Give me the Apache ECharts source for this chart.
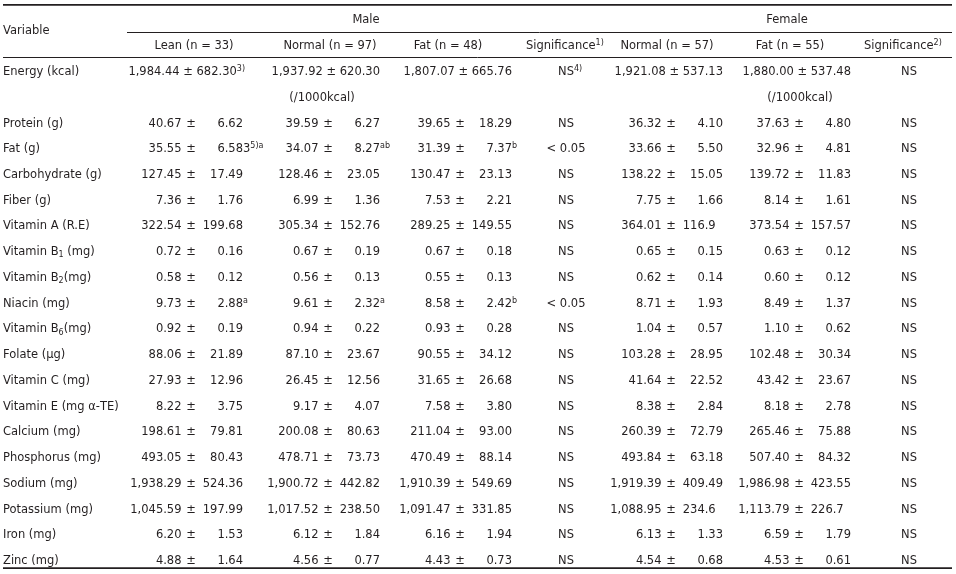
<!DOCTYPE html>
<html>
<head>
<meta charset="utf-8">
<script src="https://cdn.jsdelivr.net/npm/echarts@6/dist/echarts.min.js"></script>
<style>html,body{margin:0;padding:0;background:#fff}#chart{width:956px;height:574px}</style>
</head>
<body>
<div id="chart"></div>
<script>
// ---------------- DATA ----------------
const groupHeaders = ['Male', 'Female'];
const subHeaders = ['Lean (n = 33)', 'Normal (n = 97)', 'Fat (n = 48)', 'Significance^1)', 'Normal (n = 57)', 'Fat (n = 55)', 'Significance^2)'];
const firstHeader = 'Variable';
const perKcalLabel = '(/1000kcal)';

const energyLabel = 'Energy (kcal)';
const energyMean = ['1,984.44', '1,937.92', '1,807.07', '1,921.08', '1,880.00'];
const energySD = ['682.30^3)', '620.30', '665.76', '537.13', '537.48'];
const energySig = ['NS^4)', 'NS'];

const variables = ['Protein (g)', 'Fat (g)', 'Carbohydrate (g)', 'Fiber (g)', 'Vitamin A (R.E)', 'Vitamin B_1 (mg)', 'Vitamin B_2(mg)', 'Niacin (mg)', 'Vitamin B_6(mg)', 'Folate (μg)', 'Vitamin C (mg)', 'Vitamin E (mg α-TE)', 'Calcium (mg)', 'Phosphorus (mg)', 'Sodium (mg)', 'Potassium (mg)', 'Iron (mg)', 'Zinc (mg)'];

const leanMean = ['40.67', '35.55', '127.45', '7.36', '322.54', '0.72', '0.58', '9.73', '0.92', '88.06', '27.93', '8.22', '198.61', '493.05', '1,938.29', '1,045.59', '6.20', '4.88'];
const leanSD = ['6.62', '6.583^5)a', '17.49', '1.76', '199.68', '0.16', '0.12', '2.88^a', '0.19', '21.89', '12.96', '3.75', '79.81', '80.43', '524.36', '197.99', '1.53', '1.64'];
const normalMaleMean = ['39.59', '34.07', '128.46', '6.99', '305.34', '0.67', '0.56', '9.61', '0.94', '87.10', '26.45', '9.17', '200.08', '478.71', '1,900.72', '1,017.52', '6.12', '4.56'];
const normalMaleSD = ['6.27', '8.27^ab', '23.05', '1.36', '152.76', '0.19', '0.13', '2.32^a', '0.22', '23.67', '12.56', '4.07', '80.63', '73.73', '442.82', '238.50', '1.84', '0.77'];
const fatMaleMean = ['39.65', '31.39', '130.47', '7.53', '289.25', '0.67', '0.55', '8.58', '0.93', '90.55', '31.65', '7.58', '211.04', '470.49', '1,910.39', '1,091.47', '6.16', '4.43'];
const fatMaleSD = ['18.29', '7.37^b', '23.13', '2.21', '149.55', '0.18', '0.13', '2.42^b', '0.28', '34.12', '26.68', '3.80', '93.00', '88.14', '549.69', '331.85', '1.94', '0.73'];
const sigMale = ['NS', '< 0.05', 'NS', 'NS', 'NS', 'NS', 'NS', '< 0.05', 'NS', 'NS', 'NS', 'NS', 'NS', 'NS', 'NS', 'NS', 'NS', 'NS'];
const normalFemaleMean = ['36.32', '33.66', '138.22', '7.75', '364.01', '0.65', '0.62', '8.71', '1.04', '103.28', '41.64', '8.38', '260.39', '493.84', '1,919.39', '1,088.95', '6.13', '4.54'];
const normalFemaleSD = ['4.10', '5.50', '15.05', '1.66', '116.9', '0.15', '0.14', '1.93', '0.57', '28.95', '22.52', '2.84', '72.79', '63.18', '409.49', '234.6', '1.33', '0.68'];
const fatFemaleMean = ['37.63', '32.96', '139.72', '8.14', '373.54', '0.63', '0.60', '8.49', '1.10', '102.48', '43.42', '8.18', '265.46', '507.40', '1,986.98', '1,113.79', '6.59', '4.53'];
const fatFemaleSD = ['4.80', '4.81', '11.83', '1.61', '157.57', '0.12', '0.12', '1.37', '0.62', '30.34', '23.67', '2.78', '75.88', '84.32', '423.55', '226.7', '1.79', '0.61'];
const sigFemale = ['NS', 'NS', 'NS', 'NS', 'NS', 'NS', 'NS', 'NS', 'NS', 'NS', 'NS', 'NS', 'NS', 'NS', 'NS', 'NS', 'NS', 'NS'];

// ---------------- LAYOUT / STYLE ----------------
const FONT = 'DejaVu Sans';
const FS = 11.5;
const INK = '#231f20';
const pmCols = [191, 328, 460, 671, 799];      // x of the "±" sign in each value column (layout units)
const sigCols = [566, 909];                     // centres of significance columns
const subHeaderX = [194, 330, 448, 526, 667, 790, 864];
const subHeaderAlign = ['center', 'center', 'center', 'left', 'center', 'center', 'left'];
const groupHeaderX = [366, 787];
const perKcalX = [322, 800];
const leftX = 3, rightX = 952, midLineLeft = 127;
const rowTop = -2.61, rowGroupLine = -1.55, rowSubLine = -0.58, rowBottom = 19.27;
const rowGroup = -2.02, rowSub = -1.0, rowVariable = -1.58;
const MEAN_GAP = 9.5, SD_RIGHT = 52;

const meas = document.createElement('canvas').getContext('2d');
meas.font = FS + 'px "' + FONT + '"';
const wFrac = meas.measureText('.00').width;

const rich = {
  sup: { fontSize: 8, fontFamily: FONT, fill: INK, verticalAlign: 'top', lineHeight: 8 },
  sub: { fontSize: 8, fontFamily: FONT, fill: INK, verticalAlign: 'bottom', lineHeight: 8 }
};
function fmt(s) {
  return s.replace(/\^(.+)$/, '{sup|$1}').replace(/_(\d)/g, '{sub|$1}');
}
function txt(x, y, s, align) {
  return {
    type: 'text', x: x, y: y, silent: true,
    style: {
      text: fmt(s), fill: INK, fontSize: FS, fontFamily: FONT, lineHeight: 14,
      align: align || 'left', verticalAlign: 'middle', rich: rich
    }
  };
}
function line(api, x1, x2, row, lw) {
  const p1 = api.coord([x1, row]), p2 = api.coord([x2, row]);
  let y = p1[1];
  if (lw === 1) y = Math.round(y) + 0.5;
  return { type: 'line', silent: true, shape: { x1: p1[0], y1: y, x2: p2[0], y2: y }, style: { stroke: INK, lineWidth: lw } };
}

const meanCols = [leanMean, normalMaleMean, fatMaleMean, normalFemaleMean, fatFemaleMean];
const sdCols = [leanSD, normalMaleSD, fatMaleSD, normalFemaleSD, fatFemaleSD];
const sigData = [sigMale, sigFemale];

function renderBody(params, api) {
  const i = api.value(0);
  const row = i + 2;
  const y = api.coord([0, row])[1];
  const X = v => api.coord([v, row])[0];
  const els = [txt(X(leftX), y, variables[i], 'left')];
  for (let g = 0; g < 5; g++) {
    const pm = pmCols[g];
    els.push(txt(X(pm - MEAN_GAP), y, meanCols[g][i], 'right'));
    els.push(txt(X(pm), y, '±', 'center'));
    const sd = sdCols[g][i];
    const dot = sd.indexOf('.');
    const decX = X(pm + SD_RIGHT) - wFrac;
    els.push(txt(decX, y, sd.slice(0, dot), 'right'));
    els.push(txt(decX, y, sd.slice(dot), 'left'));
  }
  for (let k = 0; k < 2; k++) els.push(txt(X(sigCols[k]), y, sigData[k][i], 'center'));
  return { type: 'group', children: els };
}

function renderHead(params, api) {
  const X = (v, r) => api.coord([v, r]);
  const els = [];
  els.push(line(api, leftX, rightX, rowTop, 1.6));
  els.push(line(api, midLineLeft, rightX, rowGroupLine, 1));
  els.push(line(api, leftX, rightX, rowSubLine, 1));
  els.push(line(api, leftX, rightX, rowBottom, 1.6));
  const pv = X(leftX, rowVariable);
  els.push(txt(pv[0], pv[1], firstHeader, 'left'));
  groupHeaders.forEach((h, k) => { const p = X(groupHeaderX[k], rowGroup); els.push(txt(p[0], p[1], h, 'center')); });
  subHeaders.forEach((h, k) => { const p = X(subHeaderX[k], rowSub); els.push(txt(p[0], p[1], h, subHeaderAlign[k])); });
  // energy row
  const pe = X(leftX, 0);
  els.push(txt(pe[0], pe[1], energyLabel, 'left'));
  energyMean.forEach((m, g) => {
    const p = X(pmCols[g] + SD_RIGHT + (g === 0 ? 2 : 0), 0);
    els.push(txt(p[0], p[1], m + ' ± ' + energySD[g], 'right'));
  });
  energySig.forEach((s, k) => {
    const p = X(sigCols[k], 0);
    const w = meas.measureText(s.split('^')[0]).width;
    els.push(txt(p[0] - w / 2, p[1], s, 'left'));
  });
  perKcalX.forEach(x => { const p = X(x, 1); els.push(txt(p[0], p[1], perKcalLabel, 'center')); });
  return { type: 'group', children: els };
}

const chart = echarts.init(document.getElementById('chart'), null, { renderer: 'canvas' });
chart.setOption({
  animation: false,
  backgroundColor: '#ffffff',
  grid: { left: 0, right: 0, top: 0, bottom: 0 },
  xAxis: { type: 'value', min: 0, max: 956, show: false },
  yAxis: { type: 'value', min: -2.8, max: 19.5, inverse: true, show: false },
  series: [
    { type: 'custom', name: 'head', renderItem: renderHead, data: [[0]], silent: true, clip: false },
    { type: 'custom', name: 'body', renderItem: renderBody, data: variables.map((v, i) => [i]), silent: true, clip: false }
  ]
});
</script>
</body>
</html>
